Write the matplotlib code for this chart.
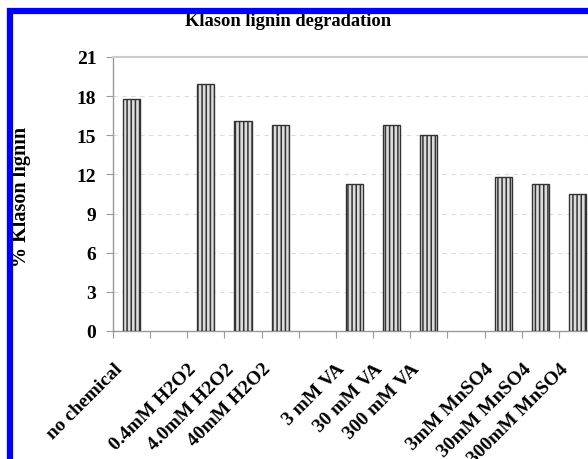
import numpy as np
import matplotlib
matplotlib.use("Agg")
import matplotlib.pyplot as plt
from matplotlib.patches import Rectangle
import matplotlib.transforms as mtransforms

categories = ["no chemical", "", "0.4mM H2O2", "4.0mM H2O2", "40mM H2O2", "",
              "3 mM VA", "30 mM VA", "300 mM VA", "",
              "3mM MnSO4", "30mM MnSO4", "300mM MnSO4"]
values = [17.8, np.nan, 18.9, 16.1, 15.8, np.nan,
          11.3, 15.8, 15.0, np.nan,
          11.8, 11.3, 10.5]
yticks = [0, 3, 6, 9, 12, 15, 18, 21]
title = "Klason lignin degradation"
ylabel = "% Klason lignin"

plt.rcParams['font.family'] = ['Liberation Serif', 'DejaVu Serif']
plt.rcParams['font.weight'] = 'bold'
plt.rcParams['hatch.color'] = '#4a4a4a'
plt.rcParams['hatch.linewidth'] = 1.1

W, H = 588, 460
fig = plt.figure(figsize=(W / 100, H / 100), dpi=100)
fig.patch.set_facecolor('white')

ax = fig.add_axes([113 / W, (H - 332) / H, 483 / W, (332 - 58) / H])

x = np.arange(len(categories))
mask = ~np.isnan(np.array(values, dtype=float))
ax.bar(x[mask], np.array(values)[mask], width=0.46, facecolor='#dcdcdc',
       edgecolor='#333333', linewidth=1.0, hatch='||||', zorder=3)

ax.set_xlim(-0.5, len(categories) - 0.5)
ax.set_ylim(0, 21)
ax.set_yticks(yticks)
ax.set_yticklabels([str(t) for t in yticks], fontsize=14, fontweight='bold')
ax.tick_params(axis='y', length=5, color='#999999', pad=7)

# category boundaries as tick marks
ax.set_xticks(np.arange(-0.5, len(categories), 1.0))
ax.set_xticklabels([])
ax.tick_params(axis='x', length=5, color='#999999')

for g in yticks[1:-1]:
    ax.axhline(g, color='#dddddd', linewidth=0.8, linestyle=(0, (4, 4)), zorder=1)

for s in ['left', 'bottom']:
    ax.spines[s].set_color('#999999')
    ax.spines[s].set_linewidth(1.0)
ax.spines['top'].set_color('#cccccc')
ax.spines['top'].set_linewidth(1.5)
ax.spines['right'].set_visible(False)

trans = mtransforms.blended_transform_factory(ax.transData, ax.transAxes)
off = mtransforms.ScaledTranslation(-18 / 100, -29 / 100, fig.dpi_scale_trans)
for xi, lab in zip(x, categories):
    if lab:
        ax.text(xi, 0, lab, transform=trans + off, rotation=45,
                rotation_mode='anchor', ha='right', va='top',
                fontsize=14, fontweight='bold', clip_on=False)

fig.text(288 / W, 1 - 26.5 / H, title, ha='center', va='baseline',
         fontsize=13.3, fontweight='bold', zorder=1)
fig.text(21 / W, 1 - 197 / H, ylabel, ha='center', va='center', rotation=90,
         fontsize=14.5, fontweight='bold', zorder=1)

# blue frame (screenshot border)
fig.patches.append(Rectangle((10 / W, -0.2), 1.5, (1 - 12 / H) + 0.2,
                             transform=fig.transFigure, fill=False,
                             edgecolor='#0000ff', linewidth=4.5, zorder=10))

fig.savefig("out.png", dpi=100)
